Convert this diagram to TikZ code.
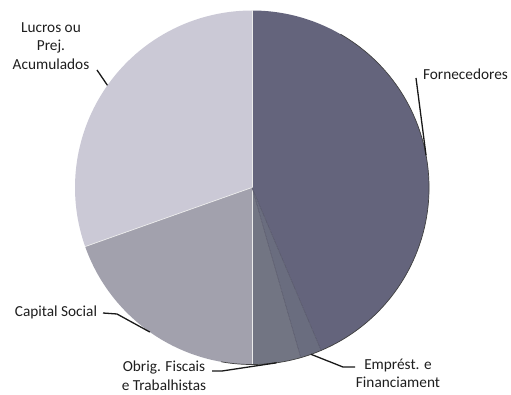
\documentclass[tikz,border=0pt]{standalone}
\usepackage{fontspec}
\setmainfont{Carlito}
\definecolor{cforn}{RGB}{100,100,124}
\definecolor{cemp}{RGB}{106,109,127}
\definecolor{cobr}{RGB}{114,117,131}
\definecolor{ccap}{RGB}{162,161,173}
\definecolor{cluc}{RGB}{203,201,214}
\definecolor{ctxt}{RGB}{30,30,30}
\begin{document}
\begin{tikzpicture}[x=1pt,y=1pt,
  lbl/.style={text=ctxt,font=\fontsize{15.3}{18.5}\selectfont,align=center,inner sep=0pt},
  leader/.style={draw=black!90,line width=1.3pt},
  sep/.style={draw=white!85!gray,line width=0.7pt}]
\useasboundingbox (0,0) rectangle (511,394);
\coordinate (C) at (252,206.5);
\def\R{177}
% slices
\fill[cforn] (C) -- ([shift={(C)}]-67:\R) arc[start angle=-67,end angle=90,radius=\R] -- cycle;
\fill[cemp]  (C) -- ([shift={(C)}]-74:\R) arc[start angle=-74,end angle=-67,radius=\R] -- cycle;
\fill[cobr]  (C) -- ([shift={(C)}]-90:\R) arc[start angle=-90,end angle=-74,radius=\R] -- cycle;
\fill[ccap]  (C) -- ([shift={(C)}]-160.5:\R) arc[start angle=-160.5,end angle=-90,radius=\R] -- cycle;
\fill[cluc]  (C) -- ([shift={(C)}]90:\R) arc[start angle=90,end angle=199.5,radius=\R] -- cycle;
% separators
\draw[sep] (C) -- ([shift={(C)}]90:\R);
\draw[sep] (C) -- ([shift={(C)}]-90:\R);
\draw[sep] (C) -- ([shift={(C)}]199.5:\R);
\draw[draw=cforn!80!black,line width=0.4pt] (C) -- ([shift={(C)}]-67:\R);
\draw[draw=cforn!80!black,line width=0.4pt] (C) -- ([shift={(C)}]-74:\R);
% right outline
\draw[draw=black!75,line width=0.7pt] ([shift={(C)}]60:\R) arc[start angle=60,end angle=-100,radius=\R];
% anchor points on the pie
\coordinate (pF) at ([shift={(C)}]10.5:\R);
\coordinate (pL) at ([shift={(C)}]144.75:\R);
\coordinate (pC) at ([shift={(C)}]-125.25:\R);
\coordinate (pO) at ([shift={(C)}]-82:\R);
\coordinate (pE) at ([shift={(C)}]-70.5:\R);
% labels
\node[lbl] (lF) at (465.5,320) {Fornecedores};
\node[lbl] (lL) at (51,348) {Lucros ou\\Prej.\\Acumulados};
\node[lbl] (lC) at (56,82) {Capital Social};
\node[lbl] (lO) at (164,18.5) {Obrig. Fiscais\\e Trabalhistas};
\node[lbl] (lE) at (398,20.5) {Emprést. e\\Financiament};
% leaders
\coordinate (kF) at (416,316);
\coordinate (kL) at (97,324);
\coordinate (kC1) at (103,81);
\coordinate (kC2) at (117,80);
\coordinate (kO1) at (212,23);
\coordinate (kO2) at (222,23);
\coordinate (kE1) at (355,27);
\coordinate (kE2) at (343,27);
\draw[leader] (kF) -- (pF);
\draw[leader] (kL) -- (pL);
\draw[leader] (kC1) -- (kC2) -- (pC);
\draw[leader] (kO1) -- (kO2) -- (pO);
\draw[leader] (kE1) -- (kE2) -- (pE);
\end{tikzpicture}
\end{document}
